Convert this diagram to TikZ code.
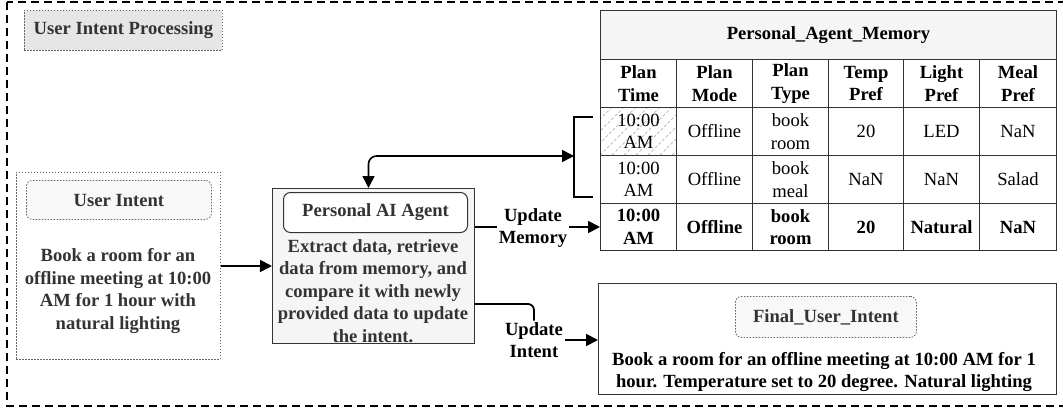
\documentclass[tikz,border=0pt]{standalone}
\usepackage{fontspec}
\setmainfont{Liberation Serif}
\usetikzlibrary{arrows.meta,calc}
\definecolor{txtgray}{HTML}{333333}
\definecolor{bordergray}{HTML}{666666}
\definecolor{tablegray}{HTML}{333333}
\definecolor{titlefill}{HTML}{F5F5F5}
\definecolor{agentfill}{HTML}{F5F5F5}
\definecolor{labfill}{HTML}{F8F8F8}
\definecolor{uipfill}{HTML}{E6E6E6}
\definecolor{hatchcol}{HTML}{A8B4C8}
\tikzset{
  fnt/.style={font=\fontsize{18.6}{22.5}\selectfont},
  fntb/.style={font=\fontsize{18.6}{22.5}\selectfont\bfseries},
  txt/.style={fntb, align=center, inner sep=0pt},
  boxnw/.style={rectangle, anchor=north west, inner sep=0pt},
  dotb/.style={draw=bordergray, line width=0.8pt, dash pattern=on 1.5pt off 1.5pt},
  cellb/.style={boxnw, draw=tablegray, line width=1pt, fnt, align=center},
  cellbold/.style={boxnw, draw=tablegray, line width=1pt, fntb, align=center},
  conn/.style={line width=1.8pt, -{Triangle[length=12pt,width=12pt]}},
  plainline/.style={line width=1.8pt},
  lbl/.style={fntb, align=center, inner sep=1.5pt}
}
\begin{document}
\begin{tikzpicture}[x=1pt,y=-1pt]
\useasboundingbox (0,0) rectangle (1063,410);
% outer dashed frame
\draw[line width=1.8pt, dash pattern=on 8pt off 5pt] (7,2) rectangle (1075,406);

% title tag
\node[boxnw, dotb, fill=uipfill, minimum width=198pt, minimum height=40pt] (uip) at (24,10) {};
\node[txt, text=txtgray] (uiptxt) at (uip.center) {User Intent Processing};

% user intent
\node[boxnw, dotb, fill=white, minimum width=204pt, minimum height=187pt] (ui) at (16,172) {};
\node[boxnw, dotb, fill=labfill, rounded corners=6pt, minimum width=185pt, minimum height=39pt] (uilab) at (26,180) {};
\node[txt, text=txtgray] (uilabtxt) at ($(uilab.center)+(0,1)$) {User Intent};
\node[txt, text=txtgray] (uitxt) at (118,291) {Book a room for an\\offline meeting at 10:00\\AM for 1 hour with\\natural lighting};

% agent
\node[boxnw, draw=txtgray, line width=1pt, fill=agentfill, minimum width=202pt, minimum height=155pt] (agent) at (272,188) {};
\node[boxnw, draw=txtgray, line width=1pt, fill=white, rounded corners=7pt, minimum width=184pt, minimum height=40pt] (aglab) at (283,192) {};
\node[txt, text=txtgray] (aglabtxt) at (aglab.center) {Personal AI Agent};
\node[txt, text=txtgray] (agtxt) at (373,291) {Extract data, retrieve\\data from memory, and\\compare it with newly\\provided data to update\\the intent.};

% table
\node[cellbold, fill=titlefill, minimum width=456pt, minimum height=49pt] (ttitle) at (600,10) {Personal\_Agent\_Memory};
\node[cellbold, minimum width=76pt, minimum height=48pt] (h1) at (600,59) {Plan\\Time};
\node[cellbold, minimum width=76pt, minimum height=48pt] (h2) at (676,59) {Plan\\Mode};
\node[cellbold, minimum width=76pt, minimum height=48pt] (h3) at (752,59) {Plan\\Type};
\node[cellbold, minimum width=75pt, minimum height=48pt] (h4) at (828,59) {Temp\\Pref};
\node[cellbold, minimum width=76pt, minimum height=48pt] (h5) at (903,59) {Light\\Pref};
\node[cellbold, minimum width=77pt, minimum height=48pt] (h6) at (979,59) {Meal\\Pref};
% row 1 hatch
\begin{scope}
\clip (600,107) rectangle (676,155);
\foreach \i in {-72,-60,...,84} \draw[hatchcol, line width=0.7pt, dash pattern=on 3pt off 2pt] (600+\i,155) -- ++(60,-60);
\end{scope}
\node[cellb, minimum width=76pt, minimum height=48pt] (r1c1) at (600,107) {10:00\\AM};
\node[cellb, minimum width=76pt, minimum height=48pt] (r1c2) at (676,107) {Offline};
\node[cellb, minimum width=76pt, minimum height=48pt] (r1c3) at (752,107) {book\\room};
\node[cellb, minimum width=75pt, minimum height=48pt] (r1c4) at (828,107) {20};
\node[cellb, minimum width=76pt, minimum height=48pt] (r1c5) at (903,107) {LED};
\node[cellb, minimum width=77pt, minimum height=48pt] (r1c6) at (979,107) {NaN};
\node[cellb, minimum width=76pt, minimum height=48pt] (r2c1) at (600,155) {10:00\\AM};
\node[cellb, minimum width=76pt, minimum height=48pt] (r2c2) at (676,155) {Offline};
\node[cellb, minimum width=76pt, minimum height=48pt] (r2c3) at (752,155) {book\\meal};
\node[cellb, minimum width=75pt, minimum height=48pt] (r2c4) at (828,155) {NaN};
\node[cellb, minimum width=76pt, minimum height=48pt] (r2c5) at (903,155) {NaN};
\node[cellb, minimum width=77pt, minimum height=48pt] (r2c6) at (979,155) {Salad};
\node[cellbold, minimum width=76pt, minimum height=47pt] (r3c1) at (600,203) {10:00\\AM};
\node[cellbold, minimum width=76pt, minimum height=47pt] (r3c2) at (676,203) {Offline};
\node[cellbold, minimum width=76pt, minimum height=47pt] (r3c3) at (752,203) {book\\room};
\node[cellbold, minimum width=75pt, minimum height=47pt] (r3c4) at (828,203) {20};
\node[cellbold, minimum width=76pt, minimum height=47pt] (r3c5) at (903,203) {Natural};
\node[cellbold, minimum width=77pt, minimum height=47pt] (r3c6) at (979,203) {NaN};

% final intent
\node[boxnw, draw=txtgray, line width=1pt, fill=white, minimum width=458pt, minimum height=111pt] (final) at (598,283) {};
\node[boxnw, dotb, fill=labfill, rounded corners=6pt, minimum width=181pt, minimum height=41pt] (finlab) at (735,296) {};
\node[txt, text=txtgray] (finlabtxt) at (finlab.center) {Final\_User\_Intent};
\node[txt] (fintxt) at (824,372) {Book a room for an offline meeting at 10:00 AM for 1\\hour. Temperature set to 20 degree. Natural lighting};

% bracket
\coordinate (brA) at (593,117);
\coordinate (brB) at (593,197);
\coordinate (brk) at (574,156);
\draw[line width=1.8pt] (brA) -- (brA -| brk) -- (brB -| brk) -- (brB);

% connectors
\draw[conn] (ui.east) -- (agent.west);
\coordinate (agTop) at ($(agent.north)+(-5,0)$);
\draw[line width=1.6pt, rounded corners=8pt, {Triangle[length=12pt,width=12pt]}-{Triangle[length=12pt,width=12pt]}] (agTop) |- (brk);

\node[lbl] (um) at (533,228) {Update\\Memory};
\draw[plainline] (agent.east |- 0,227) -- (um.west |- 0,227);
\draw[conn] (um.east |- 0,227) -- (r3c1.west |- 0,227);

\node[lbl] (ui2) at (534,340) {Update\\Intent};
\coordinate (aiO) at (474,304);
\draw[plainline, rounded corners=6pt] (aiO) -| (ui2.north);
\draw[conn] (ui2.east |- 0,340) -- (final.west |- 0,340);
\end{tikzpicture}
\end{document}
